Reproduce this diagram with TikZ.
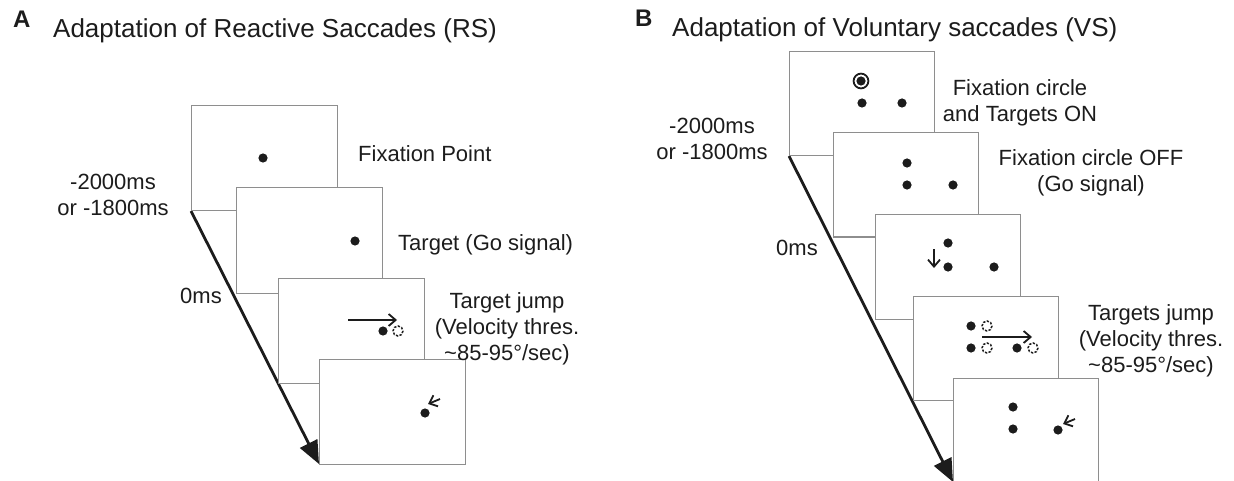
\documentclass[tikz,border=0pt]{standalone}
\usepackage{fontspec}
\setmainfont{Liberation Sans}
\usetikzlibrary{arrows.meta,positioning,backgrounds}
\definecolor{framec}{HTML}{8E8E8E}
\definecolor{inkc}{HTML}{1C1C1C}
\tikzset{
  scr/.style={draw=framec,line width=1pt,fill=white,anchor=north west,minimum width=146pt,minimum height=105pt,inner sep=0pt,outer sep=0pt},
  tm/.style={-{Triangle[length=23pt,width=19pt]},line width=2.8pt,inkc},
  mv/.style={-{Straight Barb[length=7pt,width=12pt]},line width=1.8pt,inkc},
  dt/.style={fill=inkc},
  jp/.style={draw=inkc,line width=1.5pt,dash pattern=on 2.2pt off 1.6pt},
  lbl/.style={inner sep=0pt,text=inkc,font=\fontsize{22}{26}\selectfont,align=center},
  ttl/.style={inner sep=0pt,text=inkc,font=\fontsize{26}{30}\selectfont,anchor=base west},
  ltr/.style={inner sep=0pt,text=inkc,font=\fontsize{24}{28}\selectfont\bfseries,anchor=base west}
}
\begin{document}
\begin{tikzpicture}[x=1pt,y=-1pt]
\useasboundingbox (0,0) rectangle (1234,481);
% panel A: reactive saccades
\node[ltr] (ltrA) at (13,28) {A};
\node[ttl] (ttlA) at (53,38) {Adaptation of Reactive Saccades (RS)};
\foreach \i/\x/\y in {1/191/106,2/236/188,3/278/278,4/319/359}{
  \node[scr] (ra\i) at (\x,\y) {};}
\begin{scope}[on background layer]
\draw[tm] (ra1.south west) -- (ra4.south west);
\end{scope}
\foreach \p in {(263,158),(355,241),(383,331),(425,413)}{\fill[dt] \p circle[radius=4.6];}
\draw[jp] (398,331) circle[radius=5];
\coordinate (ja0) at (348,320); \coordinate (ja1) at (397,320);
\draw[mv] (ja0) -- (ja1);
\coordinate (ka0) at (440,399); \coordinate (ka1) at (428,404);
\draw[mv] (ka0) -- (ka1);
\node[lbl,anchor=base] (startA) at (113,215) {-2000ms\\or -1800ms};
\node[lbl,anchor=base east] (zeroA) at (222,303) {0ms};
\node[lbl,anchor=base west] (fixA) at (358,162) {Fixation Point};
\node[lbl,anchor=base west] (goA) at (398,251) {Target (Go signal)};
\node[lbl,anchor=base] (jumpA) at (507,360) {Target jump\\(Velocity thres.\\\textasciitilde85-95°/sec)};
% panel B: voluntary saccades
\node[ltr] (ltrB) at (635,27) {B};
\node[ttl] (ttlB) at (672,37) {Adaptation of Voluntary saccades (VS)};
\foreach \i/\x/\y in {1/789/52,2/833/133,3/875/215,4/913/296,5/953/378}{
  \node[scr,minimum width=145pt,minimum height=104pt] (vb\i) at (\x,\y) {};}
\begin{scope}[on background layer]
\draw[tm] (vb1.south west) -- (vb5.south west);
\end{scope}
\draw[inkc,line width=1.8pt] (861,81) circle[radius=7.4];
\foreach \p in {(861,81),(862,103),(902,103),(907,163),(907,185),(953,185),
  (948,243),(948,267),(994,267),(971,326),(971,348),(1017,348),(1013,407),(1013,429),(1058,430)}{
  \fill[dt] \p circle[radius=4.6];}
\foreach \p in {(987,326),(987,348),(1033,348)}{\draw[jp] \p circle[radius=5];}
\coordinate (da0) at (934,249); \coordinate (da1) at (934,268);
\draw[mv] (da0) -- (da1);
\coordinate (jb0) at (982,337); \coordinate (jb1) at (1032,337);
\draw[mv] (jb0) -- (jb1);
\coordinate (kb0) at (1075,419); \coordinate (kb1) at (1063,424);
\draw[mv] (kb0) -- (kb1);
\node[lbl,anchor=base] (startB) at (712,160) {-2000ms\\or -1800ms};
\node[lbl,anchor=base east] (zeroB) at (818,255) {0ms};
\node[lbl,anchor=base] (onB) at (1020,122) {Fixation circle\\and Targets ON};
\node[lbl,anchor=base] (offB) at (1091,192) {Fixation circle OFF\\(Go signal)};
\node[lbl,anchor=base] (jumpB) at (1151,372) {Targets jump\\(Velocity thres.\\\textasciitilde85-95°/sec)};
\end{tikzpicture}
\end{document}
